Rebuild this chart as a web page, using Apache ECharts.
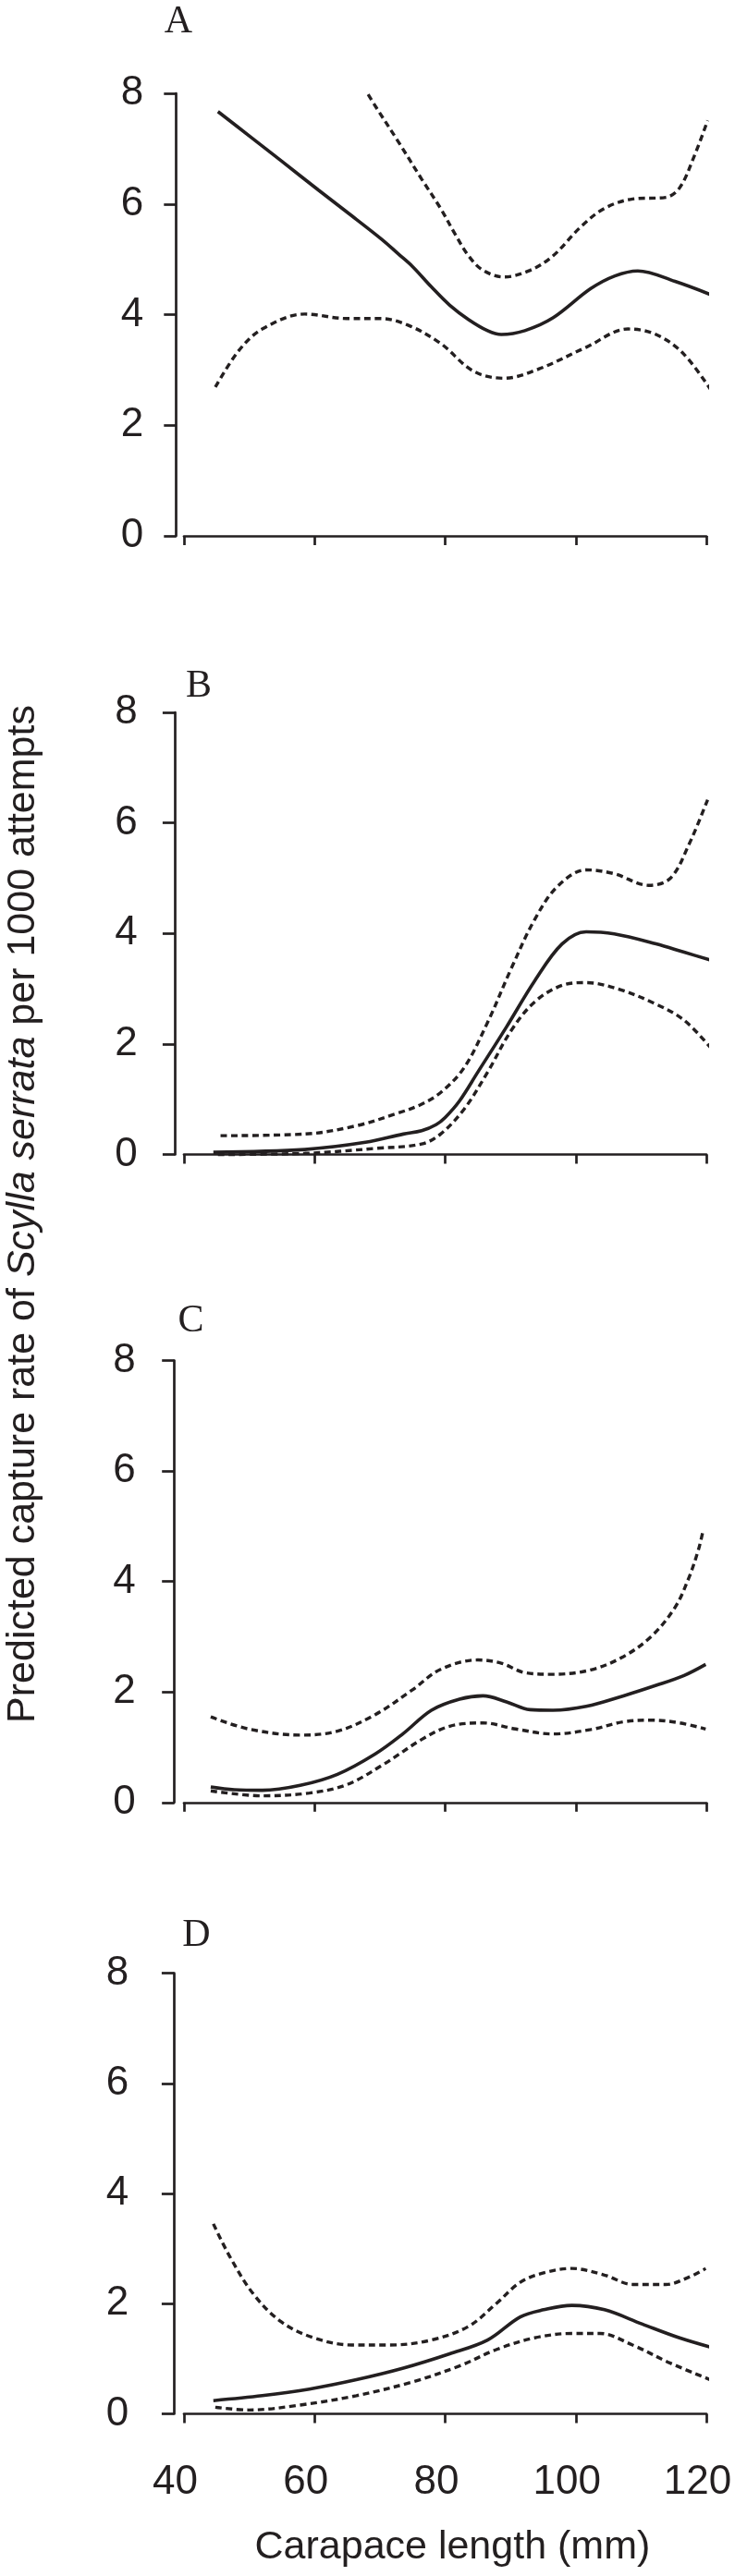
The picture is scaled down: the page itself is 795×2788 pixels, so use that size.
<!DOCTYPE html>
<html>
<head>
<meta charset="utf-8">
<script src="https://cdn.jsdelivr.net/npm/echarts@6/dist/echarts.min.js"></script>
<style>
  html, body { margin: 0; padding: 0; background: #fff; }
  #chart { width: 795px; height: 2788px; }
</style>
</head>
<body>
<div id="chart"></div>
<script>
// panel labels and axis ticks
const panelNames = ["A", "B", "C", "D"];
const xTicks = [40, 60, 80, 100, 120];
const yTicks = [0, 2, 4, 6, 8];

// [carapace length (mm), predicted rate]
// A
const aFit = [[45.2, 7.67], [50, 7.23], [55, 6.77], [60.6, 6.25], [65, 5.85], [70.3, 5.36], [72.8, 5.10],
  [75.0, 4.87], [77.9, 4.50], [80.7, 4.17], [83.6, 3.91], [86.5, 3.71], [88.6, 3.64], [92.2, 3.71],
  [96.5, 3.94], [102.3, 4.47], [106, 4.70], [109.5, 4.79], [115.2, 4.60], [120.9, 4.35]];
const aUpper = [[68.2, 7.98], [69.3, 7.77], [72.8, 7.13], [76.4, 6.45], [79.3, 5.92], [81.5, 5.46],
  [83.6, 5.06], [85.8, 4.80], [89.0, 4.68], [93.0, 4.80], [96.5, 5.06], [100.8, 5.59], [104.4, 5.92],
  [108.7, 6.09], [113.8, 6.12], [115.9, 6.29], [118.1, 6.85], [120.2, 7.51]];
const aLower = [[44.8, 2.69], [48.4, 3.35], [52.0, 3.74], [58.5, 4.01], [64.9, 3.93], [70.0, 3.93],
  [74.3, 3.81], [79.3, 3.48], [84.3, 2.98], [89.0, 2.85], [94.4, 3.02], [101.6, 3.41], [108.0, 3.74],
  [112.3, 3.64], [116.6, 3.28], [121.7, 2.46]];
// B
const bFit = [[44.5, 0.04], [58.5, 0.09], [67.8, 0.22], [73.6, 0.37], [76.4, 0.43], [78.6, 0.54],
  [80.0, 0.67], [82.2, 0.97], [85.0, 1.49], [89.4, 2.31], [93.7, 3.14], [97.9, 3.81], [101.6, 4.03],
  [105.9, 3.99], [112.3, 3.81], [116.6, 3.66], [120.6, 3.52]];
const bUpper = [[45.6, 0.34], [58.5, 0.37], [66.4, 0.52], [72.8, 0.75], [76.2, 0.90], [79.3, 1.12],
  [82.9, 1.57], [86.5, 2.39], [90.1, 3.36], [93.7, 4.25], [97.2, 4.85], [101.6, 5.15], [105.9, 5.08],
  [111.2, 4.87], [114.5, 5.00], [117.3, 5.60], [120.2, 6.42]];
const bLower = [[45.2, 0.0], [58.5, 0.02], [69.3, 0.11], [76.4, 0.19], [79.3, 0.37], [82.9, 0.82],
  [86.5, 1.49], [90.1, 2.24], [93.7, 2.76], [97.9, 3.06], [101.6, 3.11], [106.6, 2.99], [112.3, 2.72],
  [116.6, 2.43], [120.6, 1.94]];
// C
const cFit = [[44.1, 0.28], [47.7, 0.23], [52.0, 0.22], [57.8, 0.31], [63.5, 0.51], [69.3, 0.88],
  [73.6, 1.25], [77.9, 1.67], [82.2, 1.87], [85.8, 1.93], [89.4, 1.82], [93.0, 1.68], [96.5, 1.67],
  [101.6, 1.74], [107.3, 1.93], [112.3, 2.12], [116.6, 2.30], [119.9, 2.50]];
const cUpper = [[44.1, 1.55], [49.9, 1.33], [57.8, 1.22], [63.5, 1.29], [69.3, 1.59], [75.0, 2.04],
  [79.3, 2.41], [85.0, 2.58], [88.6, 2.52], [92.2, 2.35], [96.5, 2.32], [102.3, 2.40], [107.3, 2.64],
  [111.6, 3.01], [115.2, 3.53], [117.3, 4.06], [118.8, 4.58], [119.5, 4.92]];
const cLower = [[44.1, 0.21], [52.0, 0.12], [59.2, 0.17], [64.9, 0.32], [70.7, 0.70], [76.4, 1.14],
  [80.7, 1.38], [85.8, 1.44], [90.8, 1.33], [96.5, 1.24], [102.3, 1.32], [107.3, 1.46], [111.6, 1.49],
  [115.9, 1.44], [119.9, 1.33]];
// D
const dFit = [[44.5, 0.24], [52.0, 0.33], [59.2, 0.45], [66.4, 0.62], [73.6, 0.83], [80.7, 1.09],
  [86.5, 1.34], [91.5, 1.76], [95.1, 1.89], [99.4, 1.97], [104.4, 1.89], [110.2, 1.63], [115.9, 1.38],
  [121.3, 1.19]];
const dUpper = [[44.5, 3.45], [47.0, 2.86], [50.6, 2.18], [54.9, 1.67], [59.9, 1.38], [65.7, 1.25],
  [71.4, 1.25], [77.9, 1.34], [83.6, 1.59], [87.9, 2.01], [91.5, 2.39], [95.1, 2.56], [99.4, 2.64],
  [104.4, 2.52], [108.7, 2.35], [113.8, 2.35], [117.3, 2.48], [119.9, 2.64]];
const dLower = [[44.8, 0.12], [49.9, 0.07], [57.8, 0.16], [66.4, 0.33], [75.0, 0.58], [82.2, 0.87],
  [87.9, 1.17], [93.7, 1.38], [99.4, 1.46], [103.7, 1.46], [108.7, 1.25], [114.5, 0.92], [120.6, 0.62]];

const panels = [
  [aFit, aUpper, aLower],
  [bFit, bUpper, bLower],
  [cFit, cUpper, cLower],
  [dFit, dUpper, dLower]
];

const ink = "#231f20";
const sans = "'Liberation Sans', Arial, sans-serif";
const serif = "'Liberation Serif', 'Times New Roman', serif";

// pixel layout of each panel
const tops = [101, 771, 1472.5, 2135.7];
const heights = [479, 478.5, 478.3, 476.8];
const yOffsets = [8.3, 9.7, 10.4, 10.7];
const yMargins = [35.5, 40.5, 42, 49];
const letterPos = [[193, 23.5], [215, 743], [206.6, 1429.5], [212.5, 2095]];

const myChart = echarts.init(document.getElementById("chart"));

const grid = [], xAxis = [], yAxis = [], series = [];
panels.forEach((p, i) => {
  grid.push({ left: 199, width: 565, top: tops[i], height: heights[i] });
  xAxis.push({
    type: "value", gridIndex: i, min: xTicks[0], max: xTicks[xTicks.length - 1],
    interval: xTicks[1] - xTicks[0],
    splitLine: { show: false },
    axisLine: { show: true, onZero: false, lineStyle: { color: ink, width: 2.7 } },
    axisTick: { show: true, length: 10, lineStyle: { color: ink, width: 2.7 } },
    axisLabel: {
      show: i === 3, color: ink, fontSize: 44, fontFamily: sans,
      margin: 52, padding: [0, 19, 0, 0]
    }
  });
  yAxis.push({
    type: "value", gridIndex: i, min: yTicks[0], max: yTicks[yTicks.length - 1],
    interval: yTicks[1] - yTicks[0],
    offset: yOffsets[i],
    splitLine: { show: false },
    axisLine: { show: true, lineStyle: { color: ink, width: 2.7 } },
    axisTick: { show: true, length: 13.4, lineStyle: { color: ink, width: 2.7 } },
    axisLabel: {
      color: ink, fontSize: 44, fontFamily: sans,
      margin: yMargins[i], padding: [8, 0, 0, 0]
    }
  });
  p.forEach((d, k) => {
    series.push({
      type: "line", xAxisIndex: i, yAxisIndex: i, data: d,
      symbol: "none", smooth: 0.35, clip: false, silent: true,
      lineStyle: k === 0
        ? { color: ink, width: 3.6 }
        : { color: ink, width: 3.4, type: [7, 4.5] }
    });
  });
});

const graphic = panelNames.map((n, i) => ({
  type: "text", x: letterPos[i][0], y: letterPos[i][1], silent: true,
  style: { text: n, fill: ink, font: "42px " + serif, align: "center", verticalAlign: "middle" }
}));
// shared axis titles
graphic.push({
  type: "text", x: 25, y: 1314, rotation: Math.PI / 2, silent: true,
  style: {
    text: "Predicted capture rate of {i|Scylla serrata} per 1000 attempts",
    fill: ink, font: "43px " + sans, align: "center", verticalAlign: "middle",
    rich: { i: { fontStyle: "italic", fontSize: 43, fontFamily: sans, fill: ink } }
  }
});
graphic.push({
  type: "text", x: 489.4, y: 2757.5, silent: true,
  style: { text: "Carapace length (mm)", fill: ink, font: "43px " + sans, align: "center", verticalAlign: "middle" }
});

myChart.setOption({
  animation: false,
  backgroundColor: "#fff",
  grid: grid,
  xAxis: xAxis,
  yAxis: yAxis,
  series: series,
  graphic: graphic
});
</script>
</body>
</html>
